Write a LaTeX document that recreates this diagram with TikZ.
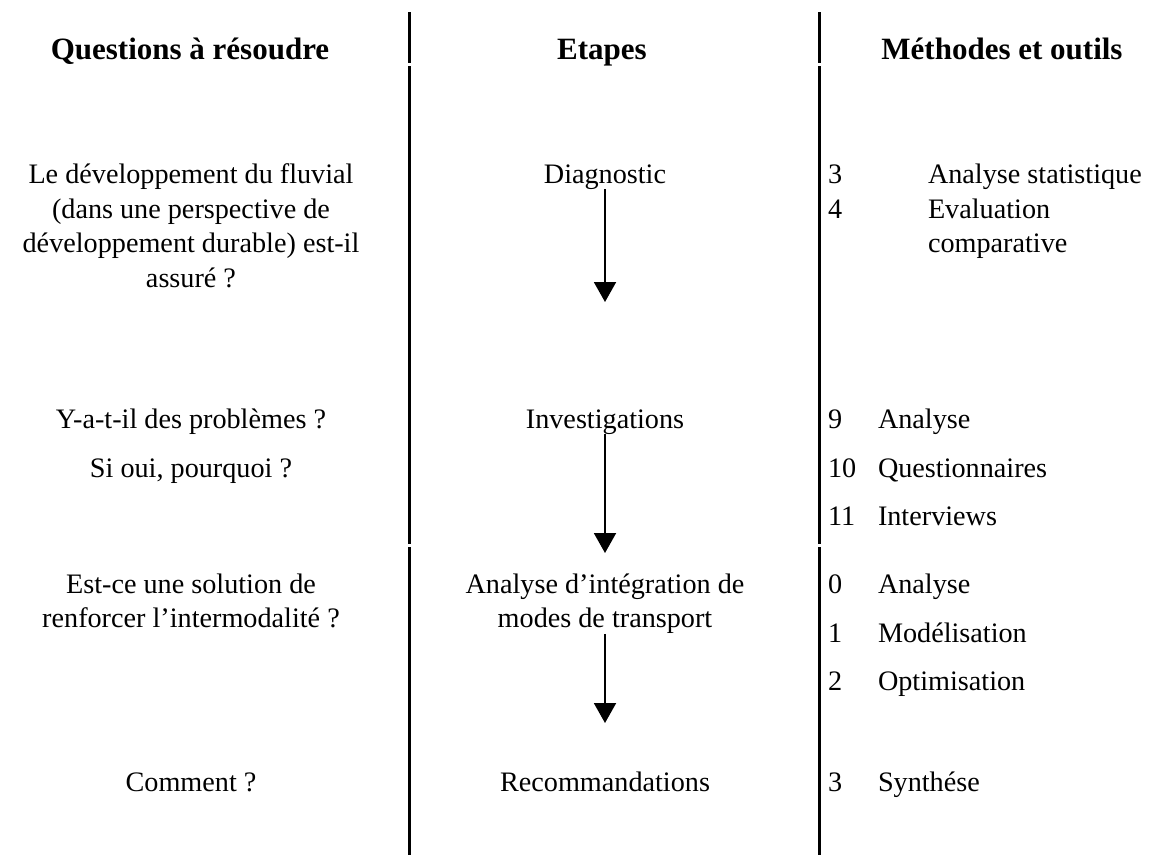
\documentclass[tikz,border=0pt]{standalone}
\usepackage{fontspec}
\setmainfont{Liberation Serif}
\usetikzlibrary{arrows.meta}
\begin{document}
\begin{tikzpicture}[x=1pt,y=-1pt,
  every node/.style={inner sep=0pt, outer sep=0pt},
  body/.style={font=\fontsize{28.2}{34.5}\selectfont},
  txt/.style={body, align=center, anchor=north},
  head/.style={font=\fontsize{31}{34.5}\selectfont\bfseries, anchor=base},
  num/.style={body, anchor=base west},
  item/.style={body, anchor=base west},
  itemblock/.style={body, align=left, anchor=north west},
  rule/.style={line width=3pt},
  flow/.style={line width=2pt, -{Triangle[length=20pt,width=22pt]}}]
\useasboundingbox (0,0) rectangle (1165,855);

% column separators (table borders with small breaks at row edges)
\draw[rule] (409,12) -- (409,63);
\draw[rule] (409,66) -- (409,544);
\draw[rule] (409,547) -- (409,855);
\draw[rule] (819,12) -- (819,63);
\draw[rule] (819,66) -- (819,544);
\draw[rule] (819,547) -- (819,855);

% headings
\node[head] (hq) at (190,59) {Questions à résoudre};
\node[head] (he) at (602,59) {Etapes};
\node[head] (hm) at (1002,59) {Méthodes et outils};

% questions
\node[txt] (q1) at (191,163.7) {Le développement du fluvial\\(dans une perspective de\\développement durable) est-il\\assuré ?};
\node[txt] (q2) at (191,408.7) {Y-a-t-il des problèmes ?\\[14.5pt]Si oui, pourquoi ?};
\node[txt] (q3) at (191,573.7) {Est-ce une solution de\\renforcer l’intermodalité ?};
\node[body, anchor=base] (q4) at (191,791) {Comment ?};

% steps
\node[body, anchor=base] (s1) at (605,183) {Diagnostic};
\node[body, anchor=base] (s2) at (605,428) {Investigations};
\node[txt] (s3) at (605,573.7) {Analyse d’intégration de\\modes de transport};
\node[body, anchor=base] (s4) at (605,791) {Recommandations};

\coordinate (t1) at (605,302);
\coordinate (t2) at (605,553);
\coordinate (t3) at (605,723);
\draw[flow] (s1.south) -- (t1);
\draw[flow] (s2.south) -- (t2);
\draw[flow] (s3.south) -- (t3);

% methods and tools
\node[num] (n3) at (828,183) {3};
\node[item] (m3) at (928,183) {Analyse statistique};
\node[num] (n4) at (828,218) {4};
\node[itemblock] (m4) at (928,198.7) {Evaluation\\comparative};

\node[num] (n9) at (828,428) {9};
\node[item] (m9) at (878,428) {Analyse};
\node[num] (n10) at (828,477) {10};
\node[item] (m10) at (878,477) {Questionnaires};
\node[num] (n11) at (828,525) {11};
\node[item] (m11) at (878,525) {Interviews};

\node[num] (n0) at (828,593) {0};
\node[item] (m0) at (878,593) {Analyse};
\node[num] (n1) at (828,642) {1};
\node[item] (m1) at (878,642) {Modélisation};
\node[num] (n2) at (828,690) {2};
\node[item] (m2) at (878,690) {Optimisation};

\node[num] (n3b) at (828,791) {3};
\node[item] (m3b) at (878,791) {Synthése};
\end{tikzpicture}
\end{document}
